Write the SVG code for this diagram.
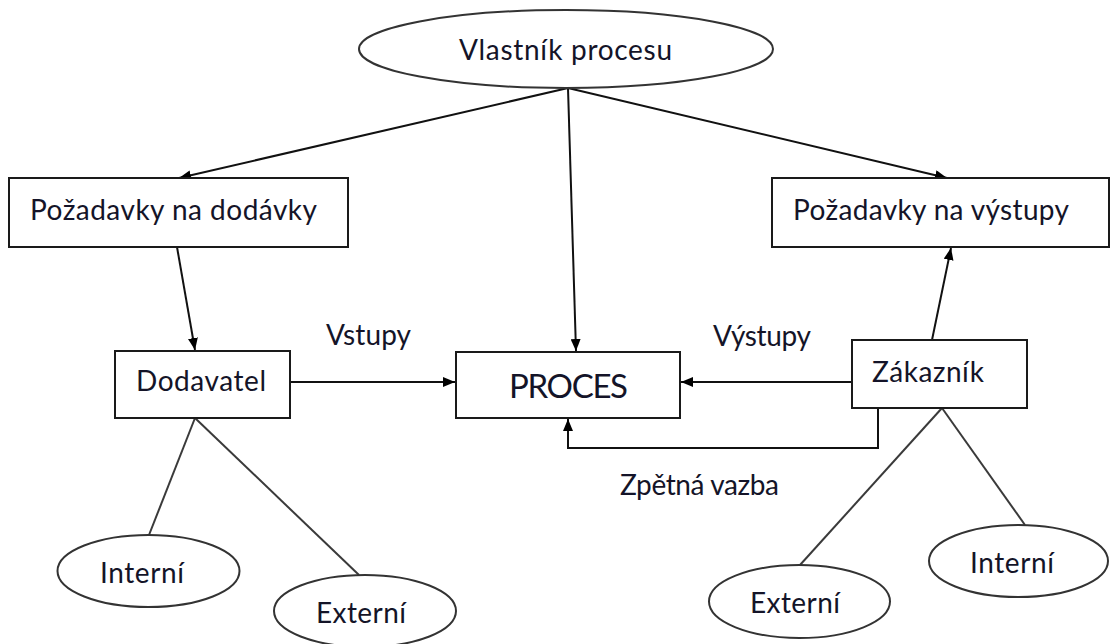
<svg xmlns="http://www.w3.org/2000/svg" width="1111" height="644" viewBox="0 0 1111 644">
  <style>
    .shape { fill: #ffffff; stroke: #1a1a1a; stroke-width: 2; }
    .oval { fill: #ffffff; stroke: #333333; stroke-width: 2; }
    .label { font-family: Lato, "Open Sans", sans-serif; font-size: 28px; fill: #141428; }
    .big { font-size: 33px; }
    .edge { fill: none; stroke: #111111; stroke-width: 2; }
    .tie { fill: none; stroke: #3a3a3a; stroke-width: 2; }
  </style>
  <defs>
    <marker id="arrow" viewBox="0 0 12 10" refX="12" refY="5" markerWidth="12" markerHeight="10" markerUnits="userSpaceOnUse" orient="auto">
      <path d="M0,0 L12,5 L0,10 z" fill="#000000"/>
    </marker>
  </defs>

  <!-- connectors -->
  <g id="connectors">
    <line class="edge" x1="568" y1="88" x2="179" y2="178" marker-end="url(#arrow)"/>
    <line class="edge" x1="568" y1="88" x2="947" y2="178" marker-end="url(#arrow)"/>
    <line class="edge" x1="568" y1="88" x2="576" y2="351" marker-end="url(#arrow)"/>
    <line class="edge" x1="177" y1="247" x2="195" y2="350" marker-end="url(#arrow)"/>
    <line class="edge" x1="290" y1="382" x2="455" y2="382" marker-end="url(#arrow)"/>
    <line class="edge" x1="852" y1="382" x2="681" y2="382" marker-end="url(#arrow)"/>
    <line class="edge" x1="932" y1="340" x2="951" y2="248" marker-end="url(#arrow)"/>
    <polyline class="edge" points="878,408 878,448 568,448 568,419" marker-end="url(#arrow)"/>
    <line class="tie" x1="195" y1="418" x2="149" y2="535"/>
    <line class="tie" x1="195" y1="418" x2="359" y2="575"/>
    <line class="tie" x1="942" y1="408" x2="800" y2="565"/>
    <line class="tie" x1="942" y1="408" x2="1025" y2="525"/>
    <text class="label" x="368.5" y="345" text-anchor="middle" textLength="85">Vstupy</text>
    <text class="label" x="762" y="346" text-anchor="middle" textLength="98">Výstupy</text>
    <text class="label" x="699.5" y="495" text-anchor="middle" textLength="159">Zpětná vazba</text>
  </g>

  <g id="owner">
    <ellipse class="oval" cx="566" cy="49" rx="207" ry="39"/>
    <text class="label" x="565.5" y="60" text-anchor="middle" textLength="213">Vlastník procesu</text>
  </g>

  <g id="supply-req">
    <rect class="shape" x="9" y="178" width="339" height="69"/>
    <text class="label" x="30" y="220" textLength="287">Požadavky na dodávky</text>
  </g>

  <g id="output-req">
    <rect class="shape" x="772" y="178" width="337" height="69"/>
    <text class="label" x="793" y="220" textLength="276">Požadavky na výstupy</text>
  </g>

  <g id="supplier">
    <rect class="shape" x="115" y="351" width="175" height="67"/>
    <text class="label" x="136" y="391" textLength="130">Dodavatel</text>
  </g>

  <g id="process">
    <rect class="shape" x="456" y="352" width="224" height="66"/>
    <text class="label big" x="568.5" y="398" text-anchor="middle" textLength="119">PROCES</text>
  </g>

  <g id="customer">
    <rect class="shape" x="852" y="340" width="175" height="68"/>
    <text class="label" x="872" y="382" textLength="112">Zákazník</text>
  </g>

  <g id="supplier-internal">
    <ellipse class="oval" cx="148.5" cy="571" rx="91" ry="36"/>
    <text class="label" x="142" y="583" text-anchor="middle" textLength="84">Interní</text>
  </g>

  <g id="supplier-external">
    <ellipse class="oval" cx="365" cy="611" rx="91" ry="36"/>
    <text class="label" x="361" y="623" text-anchor="middle" textLength="90">Externí</text>
  </g>

  <g id="customer-external">
    <ellipse class="oval" cx="799.5" cy="601.5" rx="90.5" ry="36.5"/>
    <text class="label" x="795" y="613" text-anchor="middle" textLength="90">Externí</text>
  </g>

  <g id="customer-internal">
    <ellipse class="oval" cx="1018.5" cy="561" rx="89.5" ry="36"/>
    <text class="label" x="1012" y="573" text-anchor="middle" textLength="84">Interní</text>
  </g>
</svg>
